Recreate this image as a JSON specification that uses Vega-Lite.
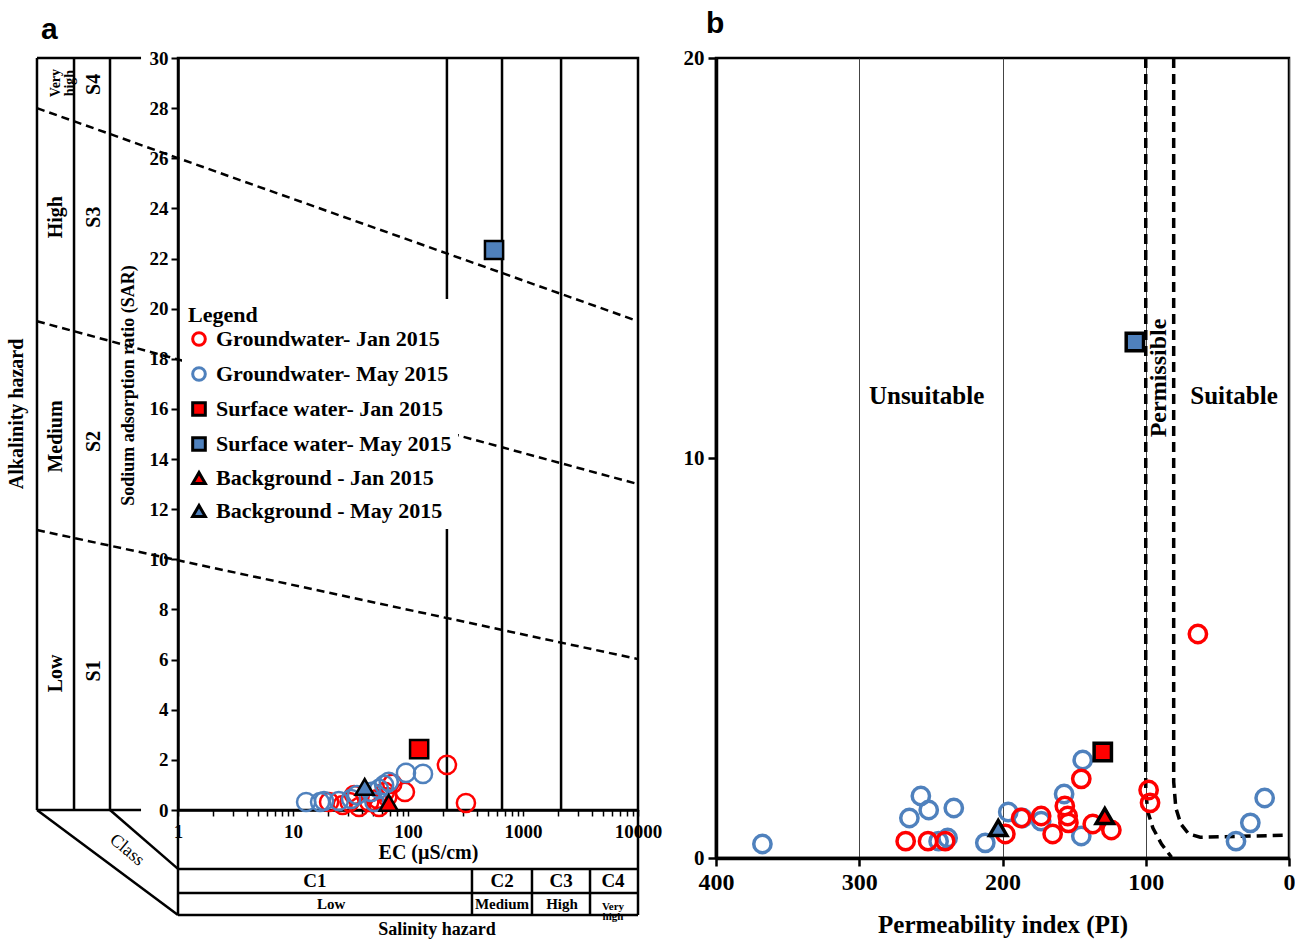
{
  "$schema": "https://vega.github.io/schema/vega-lite/v6.json",
  "padding": {"left": 5, "top": 7, "right": 2, "bottom": 0},
  "background": "white",
  "spacing": 18,
  "config": {
    "view": {"stroke": "black", "strokeWidth": 2.5},
    "font": "Liberation Serif",
    "axis": {"labelFont": "Liberation Serif", "labelFontWeight": "bold", "labelColor": "black", "titleFont": "Liberation Serif", "titleFontWeight": "bold", "titleColor": "black", "domainColor": "black", "tickColor": "black", "grid": false},
    "title": {"font": "Liberation Sans", "fontWeight": "bold", "fontSize": 30, "color": "black"}
  },
  "resolve": {"scale": {"fill": "independent", "stroke": "independent", "shape": "independent", "size": "independent"}},
  "datasets": {
    "a_frame": [
      {"x1": 0.0594, "x2": 0.477, "y1": 30, "y2": 30},
      {"x1": 0.0594, "x2": 0.477, "y1": 0, "y2": 0},
      {"x1": 0.0594, "x2": 0.0594, "y1": 0, "y2": 30},
      {"x1": 0.1247, "x2": 0.1247, "y1": 0, "y2": 30},
      {"x1": 0.2563, "x2": 0.2563, "y1": 0, "y2": 30},
      {"x1": 0.0594, "x2": 1, "y1": 0, "y2": -4.19},
      {"x1": 0.2563, "x2": 1, "y1": 0, "y2": -2.35},
      {"x1": 1, "x2": 1, "y1": 0, "y2": -4.19},
      {"x1": 10000, "x2": 10000, "y1": 0, "y2": -4.19},
      {"x1": 1, "x2": 10000, "y1": -2.35, "y2": -2.35},
      {"x1": 1, "x2": 10000, "y1": -3.31, "y2": -3.31},
      {"x1": 1, "x2": 10000, "y1": -4.19, "y2": -4.19},
      {"x1": 360, "x2": 360, "y1": -2.35, "y2": -4.19},
      {"x1": 1197, "x2": 1197, "y1": -2.35, "y2": -4.19},
      {"x1": 3826, "x2": 3826, "y1": -2.35, "y2": -4.19},
      {"x1": 218, "x2": 218, "y1": 0, "y2": 30},
      {"x1": 657, "x2": 657, "y1": 0, "y2": 30},
      {"x1": 2143, "x2": 2143, "y1": 0, "y2": 30}
    ],
    "a_dash": [
      {"g": "S3/S4", "x1": 0.0594, "y1": 28.0},
      {"g": "S3/S4", "x1": 10000, "y1": 19.5},
      {"g": "S2/S3", "x1": 0.0594, "y1": 19.5},
      {"g": "S2/S3", "x1": 10000, "y1": 13.0},
      {"g": "S1/S2", "x1": 0.0594, "y1": 11.17},
      {"g": "S1/S2", "x1": 10000, "y1": 6.02}
    ],
    "a_rot": [
      {"x1": 0.0398, "y1": 15.8, "t": "Alkalinity hazard"},
      {"x1": 0.0869, "y1": 23.65, "t": "High"},
      {"x1": 0.0869, "y1": 14.9, "t": "Medium"},
      {"x1": 0.0869, "y1": 5.45, "t": "Low"},
      {"x1": 0.186, "y1": 28.95, "t": "S4"},
      {"x1": 0.186, "y1": 23.65, "t": "S3"},
      {"x1": 0.186, "y1": 14.7, "t": "S2"},
      {"x1": 0.186, "y1": 5.55, "t": "S1"}
    ],
    "a_vh": [{"x1": 0.0869, "y1": 29.0, "t": "Very\nhigh"}],
    "a_class": [{"x1": 0.36, "y1": -1.6, "t": "Class"}],
    "a_tab1": [
      {"x1": 15.5, "y1": -2.83, "t": "C1"},
      {"x1": 657, "y1": -2.83, "t": "C2"},
      {"x1": 2143, "y1": -2.83, "t": "C3"},
      {"x1": 6063, "y1": -2.83, "t": "C4"}
    ],
    "a_tab2": [
      {"x1": 21.5, "y1": -3.75, "t": "Low"},
      {"x1": 657, "y1": -3.75, "t": "Medium"},
      {"x1": 2185, "y1": -3.75, "t": "High"}
    ],
    "a_tabvh": [{"x1": 6063, "y1": -3.85, "t": "Very\nhigh"}],
    "a_sal": [{"x1": 179, "y1": -4.8, "t": "Salinity hazard"}],
    "a_pts": [
      {"s": "Groundwater- Jan 2015", "x1": 218, "y1": 1.8},
      {"s": "Groundwater- Jan 2015", "x1": 319, "y1": 0.28},
      {"s": "Groundwater- Jan 2015", "x1": 94, "y1": 0.72},
      {"s": "Groundwater- Jan 2015", "x1": 73, "y1": 1.04},
      {"s": "Groundwater- Jan 2015", "x1": 63, "y1": 0.72},
      {"s": "Groundwater- Jan 2015", "x1": 54, "y1": 0.44},
      {"s": "Groundwater- Jan 2015", "x1": 46, "y1": 0.32},
      {"s": "Groundwater- Jan 2015", "x1": 34, "y1": 0.6},
      {"s": "Groundwater- Jan 2015", "x1": 31, "y1": 0.32},
      {"s": "Groundwater- Jan 2015", "x1": 27, "y1": 0.2},
      {"s": "Groundwater- Jan 2015", "x1": 37.5, "y1": 0.12},
      {"s": "Groundwater- Jan 2015", "x1": 56, "y1": 0.12},
      {"s": "Groundwater- Jan 2015", "x1": 66, "y1": 0.52},
      {"s": "Groundwater- Jan 2015", "x1": 20.6, "y1": 0.32},
      {"s": "Groundwater- May 2015", "x1": 13, "y1": 0.32},
      {"s": "Groundwater- May 2015", "x1": 17.2, "y1": 0.32},
      {"s": "Groundwater- May 2015", "x1": 18.6, "y1": 0.36},
      {"s": "Groundwater- May 2015", "x1": 25, "y1": 0.36},
      {"s": "Groundwater- May 2015", "x1": 32, "y1": 0.44},
      {"s": "Groundwater- May 2015", "x1": 36, "y1": 0.6},
      {"s": "Groundwater- May 2015", "x1": 48, "y1": 0.72},
      {"s": "Groundwater- May 2015", "x1": 56, "y1": 0.84},
      {"s": "Groundwater- May 2015", "x1": 62, "y1": 1.0},
      {"s": "Groundwater- May 2015", "x1": 68, "y1": 1.12},
      {"s": "Groundwater- May 2015", "x1": 96, "y1": 1.48},
      {"s": "Groundwater- May 2015", "x1": 135, "y1": 1.44},
      {"s": "Groundwater- May 2015", "x1": 51, "y1": 0.32},
      {"s": "Surface water- Jan 2015", "x1": 125, "y1": 2.43},
      {"s": "Surface water- May 2015", "x1": 560, "y1": 22.34},
      {"s": "Background - Jan 2015", "x1": 68, "y1": 0.28},
      {"s": "Background - May 2015", "x1": 42, "y1": 0.92}
    ],
    "b_curves": [
      {"g": "L", "i": 0, "pi": 100, "v": 20},
      {"g": "L", "i": 1, "pi": 100, "v": 1.65},
      {"g": "L", "i": 2, "pi": 98.5, "v": 1.15},
      {"g": "L", "i": 3, "pi": 95, "v": 0.75},
      {"g": "L", "i": 4, "pi": 89, "v": 0.35},
      {"g": "L", "i": 5, "pi": 82, "v": 0.02},
      {"g": "R", "i": 0, "pi": 80.5, "v": 20},
      {"g": "R", "i": 1, "pi": 80.5, "v": 1.9},
      {"g": "R", "i": 2, "pi": 79, "v": 1.25},
      {"g": "R", "i": 3, "pi": 75.5, "v": 0.85},
      {"g": "R", "i": 4, "pi": 70, "v": 0.6},
      {"g": "R", "i": 5, "pi": 62, "v": 0.52},
      {"g": "R", "i": 6, "pi": 1.5, "v": 0.57}
    ],
    "b_text": [
      {"pi": 253, "v": 11.55, "t": "Unsuitable"},
      {"pi": 38.4, "v": 11.55, "t": "Suitable"}
    ],
    "b_perm": [{"pi": 90.8, "v": 12.0, "t": "Permissible"}],
    "b_pts": [
      {"s": "Groundwater- May 2015", "pi": 367.6, "v": 0.35},
      {"s": "Groundwater- May 2015", "pi": 265, "v": 1.0},
      {"s": "Groundwater- May 2015", "pi": 257, "v": 1.55},
      {"s": "Groundwater- May 2015", "pi": 251.5, "v": 1.2},
      {"s": "Groundwater- May 2015", "pi": 244.6, "v": 0.42},
      {"s": "Groundwater- May 2015", "pi": 238.3, "v": 0.5},
      {"s": "Groundwater- May 2015", "pi": 234, "v": 1.25},
      {"s": "Groundwater- May 2015", "pi": 212, "v": 0.38},
      {"s": "Groundwater- May 2015", "pi": 196, "v": 1.15},
      {"s": "Groundwater- May 2015", "pi": 186, "v": 1.0},
      {"s": "Groundwater- May 2015", "pi": 173, "v": 0.92},
      {"s": "Groundwater- May 2015", "pi": 157, "v": 1.6},
      {"s": "Groundwater- May 2015", "pi": 145, "v": 0.55},
      {"s": "Groundwater- May 2015", "pi": 144, "v": 2.45},
      {"s": "Groundwater- May 2015", "pi": 37, "v": 0.42},
      {"s": "Groundwater- May 2015", "pi": 27, "v": 0.88},
      {"s": "Groundwater- May 2015", "pi": 17, "v": 1.5},
      {"s": "Groundwater- Jan 2015", "pi": 267.6, "v": 0.42},
      {"s": "Groundwater- Jan 2015", "pi": 252, "v": 0.42},
      {"s": "Groundwater- Jan 2015", "pi": 240, "v": 0.42},
      {"s": "Groundwater- Jan 2015", "pi": 198, "v": 0.6},
      {"s": "Groundwater- Jan 2015", "pi": 187, "v": 1.0},
      {"s": "Groundwater- Jan 2015", "pi": 173, "v": 1.05},
      {"s": "Groundwater- Jan 2015", "pi": 165, "v": 0.6},
      {"s": "Groundwater- Jan 2015", "pi": 156.5, "v": 1.3},
      {"s": "Groundwater- Jan 2015", "pi": 154.5, "v": 1.05},
      {"s": "Groundwater- Jan 2015", "pi": 154, "v": 0.88},
      {"s": "Groundwater- Jan 2015", "pi": 145, "v": 1.98},
      {"s": "Groundwater- Jan 2015", "pi": 137, "v": 0.85},
      {"s": "Groundwater- Jan 2015", "pi": 124, "v": 0.7},
      {"s": "Groundwater- Jan 2015", "pi": 98, "v": 1.7},
      {"s": "Groundwater- Jan 2015", "pi": 97, "v": 1.38},
      {"s": "Groundwater- Jan 2015", "pi": 63.6, "v": 5.6},
      {"s": "Surface water- Jan 2015", "pi": 130, "v": 2.65},
      {"s": "Surface water- May 2015", "pi": 107.6, "v": 12.9},
      {"s": "Background - Jan 2015", "pi": 128.6, "v": 1.05},
      {"s": "Background - May 2015", "pi": 203, "v": 0.75}
    ]
  },
  "hconcat": [
    {
      "width": 460,
      "height": 752,
      "title": {"text": "a", "anchor": "start", "frame": "bounds", "dx": 34, "offset": 4},
      "encoding": {
        "x": {"field": "x1", "type": "quantitative",
          "scale": {"type": "log", "domain": [1, 10000], "nice": false},
          "axis": {"title": "EC (µS/cm)", "values": [1,2,3,4,5,6,7,8,9,10,20,30,40,50,60,70,80,90,100,200,300,400,500,600,700,800,900,1000,2000,3000,4000,5000,6000,7000,8000,9000,10000],
            "format": "d", "labelExpr": "indexof([1,10,100,1000,10000], datum.value) >= 0 ? datum.label : ''",
            "labelFontSize": 19, "tickSize": 6, "tickWidth": 1.5, "labelPadding": 6, "domainWidth": 2.5,
            "labelFlush": false, "labelOverlap": false, "titleFontSize": 20, "titlePadding": 1, "titleX": 250}},
        "y": {"field": "y1", "type": "quantitative",
          "scale": {"domain": [0, 30], "nice": false, "zero": false},
          "axis": {"title": "Sodium adsorption ratio (SAR)", "values": [0,2,4,6,8,10,12,14,16,18,20,22,24,26,28,30],
            "labelFontSize": 19, "tickSize": 7, "tickWidth": 2, "labelPadding": 3, "domainWidth": 2.5,
            "labelFlush": false, "titleFontSize": 18, "titleX": -41, "titleY": 327}}
      },
      "layer": [
        {
          "data": {"name": "a_frame"},
          "mark": {"type": "rule", "color": "black", "strokeWidth": 2.5},
          "encoding": {"x2": {"field": "x2"}, "y2": {"field": "y2"}}
        },
        {
          "data": {"name": "a_dash"},
          "mark": {"type": "line", "color": "black", "strokeWidth": 2.5, "strokeDash": [8, 5]},
          "encoding": {"detail": {"field": "g"}}
        },
        {
          "data": {"name": "a_rot"},
          "mark": {"type": "text", "angle": 270, "fontSize": 20, "fontWeight": "bold", "font": "Liberation Serif", "color": "black", "baseline": "middle", "align": "center"},
          "encoding": {"text": {"field": "t"}}
        },
        {
          "data": {"name": "a_vh"},
          "mark": {"type": "text", "angle": 270, "fontSize": 14, "fontWeight": "bold", "font": "Liberation Serif", "color": "black", "baseline": "middle", "align": "center", "lineBreak": "\n", "lineHeight": 14},
          "encoding": {"text": {"field": "t"}}
        },
        {
          "data": {"name": "a_class"},
          "mark": {"type": "text", "angle": 40, "fontSize": 18, "font": "Liberation Serif", "color": "black", "baseline": "middle", "align": "center"},
          "encoding": {"text": {"field": "t"}}
        },
        {
          "data": {"name": "a_tab1"},
          "mark": {"type": "text", "fontSize": 19, "fontWeight": "bold", "font": "Liberation Serif", "color": "black", "baseline": "middle", "align": "center"},
          "encoding": {"text": {"field": "t"}}
        },
        {
          "data": {"name": "a_tab2"},
          "mark": {"type": "text", "fontSize": 15, "fontWeight": "bold", "font": "Liberation Serif", "color": "black", "baseline": "middle", "align": "center"},
          "encoding": {"text": {"field": "t"}}
        },
        {
          "data": {"name": "a_tabvh"},
          "mark": {"type": "text", "fontSize": 11, "fontWeight": "bold", "font": "Liberation Serif", "color": "black", "baseline": "middle", "align": "center", "lineBreak": "\n", "lineHeight": 10},
          "encoding": {"text": {"field": "t"}}
        },
        {
          "data": {"name": "a_sal"},
          "mark": {"type": "text", "fontSize": 18, "fontWeight": "bold", "font": "Liberation Serif", "color": "black", "baseline": "middle", "align": "center"},
          "encoding": {"text": {"field": "t"}}
        },
        {
          "data": {"name": "a_pts"},
          "mark": {"type": "point", "filled": true, "opacity": 1, "strokeWidth": 2.5},
          "encoding": {
            "fill": {"field": "s", "type": "nominal",
              "scale": {"domain": ["Groundwater- Jan 2015", "Groundwater- May 2015", "Surface water- Jan 2015", "Surface water- May 2015", "Background - Jan 2015", "Background - May 2015"],
                "range": ["transparent", "transparent", "#FF0000", "#4F81BD", "#FF0000", "#4F81BD"]},
              "legend": {"orient": "none", "legendX": 4, "legendY": 241, "title": "Legend", "titleFont": "Liberation Serif", "titleFontSize": 22, "titleFontWeight": "bold", "titleColor": "black", "titlePadding": 1,
                "labelFont": "Liberation Serif", "labelFontSize": 22, "labelFontWeight": "bold", "labelColor": "black", "labelLimit": 400,
                "fillColor": "white", "padding": 6, "rowPadding": 9, "symbolSize": 160, "symbolStrokeWidth": 3, "labelOffset": 6}},
            "stroke": {"field": "s", "type": "nominal",
              "scale": {"domain": ["Groundwater- Jan 2015", "Groundwater- May 2015", "Surface water- Jan 2015", "Surface water- May 2015", "Background - Jan 2015", "Background - May 2015"],
                "range": ["#FF0000", "#4F81BD", "black", "black", "black", "black"]}},
            "shape": {"field": "s", "type": "nominal",
              "scale": {"domain": ["Groundwater- Jan 2015", "Groundwater- May 2015", "Surface water- Jan 2015", "Surface water- May 2015", "Background - Jan 2015", "Background - May 2015"],
                "range": ["circle", "circle", "square", "square", "triangle-up", "triangle-up"]}},
            "size": {"field": "s", "type": "nominal",
              "scale": {"domain": ["Background - Jan 2015", "Background - May 2015", "Groundwater- Jan 2015", "Groundwater- May 2015", "Surface water- Jan 2015", "Surface water- May 2015"],
                "range": [330, 330, 170, 170, 230, 230]},
              "legend": null}
          }
        }
      ]
    },
    {
      "width": 573,
      "height": 800,
      "title": {"text": "b", "anchor": "start", "frame": "group", "dx": -10, "offset": 8},
      "encoding": {
        "x": {"field": "pi", "type": "quantitative",
          "scale": {"domain": [0, 400], "reverse": true, "nice": false, "zero": false},
          "axis": {"title": "Permeability index (PI)", "values": [400, 300, 200, 100, 0], "grid": true, "gridColor": "#444", "gridWidth": 1,
            "labelFontSize": 24, "tickSize": 8, "tickWidth": 2.5, "labelPadding": 4, "domainWidth": 3.5, "labelFlush": false,
            "titleFontSize": 25, "titlePadding": 18}},
        "y": {"field": "v", "type": "quantitative",
          "scale": {"domain": [0, 20], "nice": false},
          "axis": {"title": null, "values": [0, 10, 20], "labelFontSize": 21, "tickSize": 8, "tickWidth": 2.5, "labelPadding": 4, "domainWidth": 3.5, "labelFlush": false}}
      },
      "layer": [
        {
          "data": {"name": "b_curves"},
          "mark": {"type": "line", "color": "black", "strokeWidth": 3.5, "strokeDash": [10, 6]},
          "encoding": {"detail": {"field": "g"}, "order": {"field": "i"}}
        },
        {
          "data": {"name": "b_text"},
          "mark": {"type": "text", "fontSize": 25, "fontWeight": "bold", "font": "Liberation Serif", "color": "black", "baseline": "middle", "align": "center"},
          "encoding": {"text": {"field": "t"}}
        },
        {
          "data": {"name": "b_perm"},
          "mark": {"type": "text", "angle": 270, "fontSize": 24, "fontWeight": "bold", "font": "Liberation Serif", "color": "black", "baseline": "middle", "align": "center"},
          "encoding": {"text": {"field": "t"}}
        },
        {
          "data": {"name": "b_pts"},
          "mark": {"type": "point", "filled": true, "opacity": 1, "strokeWidth": 3.5},
          "encoding": {
            "fill": {"field": "s", "type": "nominal", "legend": null,
              "scale": {"domain": ["Groundwater- Jan 2015", "Groundwater- May 2015", "Surface water- Jan 2015", "Surface water- May 2015", "Background - Jan 2015", "Background - May 2015"],
                "range": ["transparent", "transparent", "#FF0000", "#4F81BD", "#FF0000", "#4F81BD"]}},
            "stroke": {"field": "s", "type": "nominal", "legend": null,
              "scale": {"domain": ["Groundwater- Jan 2015", "Groundwater- May 2015", "Surface water- Jan 2015", "Surface water- May 2015", "Background - Jan 2015", "Background - May 2015"],
                "range": ["#FF0000", "#4F81BD", "black", "black", "black", "black"]}},
            "shape": {"field": "s", "type": "nominal", "legend": null,
              "scale": {"domain": ["Groundwater- Jan 2015", "Groundwater- May 2015", "Surface water- Jan 2015", "Surface water- May 2015", "Background - Jan 2015", "Background - May 2015"],
                "range": ["circle", "circle", "square", "square", "triangle-up", "triangle-up"]}},
            "size": {"field": "s", "type": "nominal", "legend": null,
              "scale": {"domain": ["Groundwater- Jan 2015", "Groundwater- May 2015", "Surface water- Jan 2015", "Surface water- May 2015", "Background - Jan 2015", "Background - May 2015"],
                "range": [300, 300, 380, 380, 560, 560]}}
          }
        }
      ]
    }
  ]
}
